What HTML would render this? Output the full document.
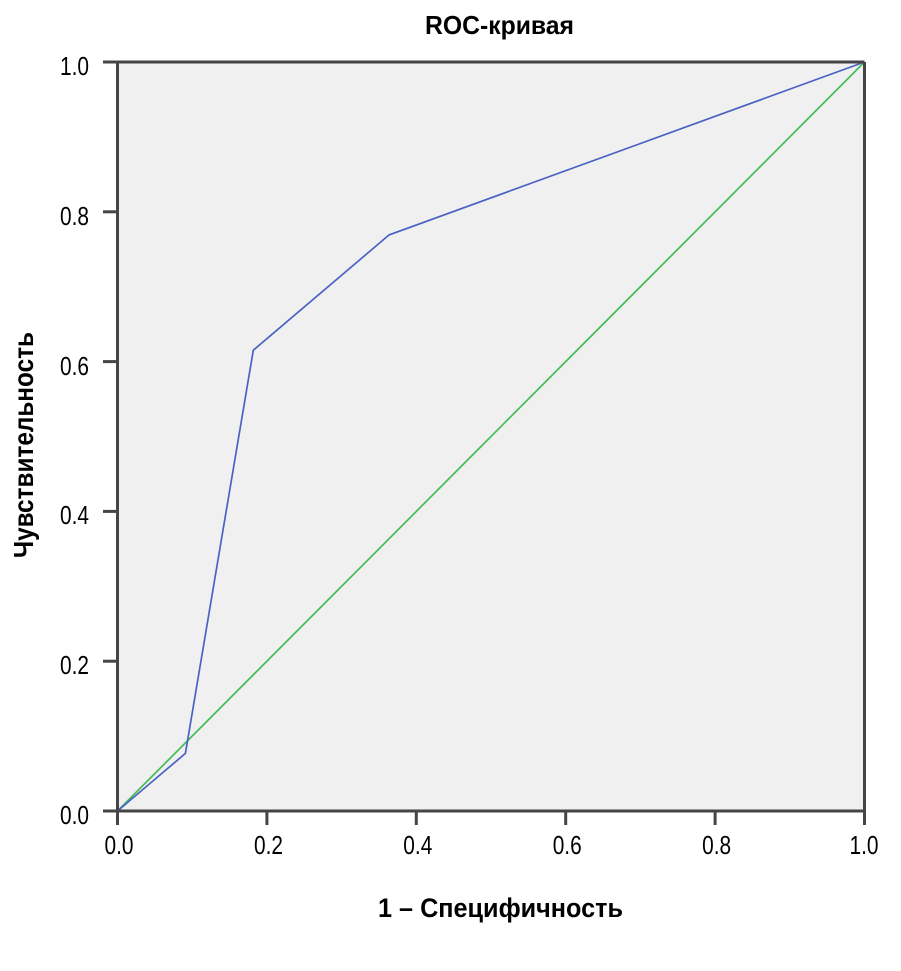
<!DOCTYPE html>
<html><head><meta charset="utf-8"><style>
html,body{margin:0;padding:0;background:#fff;}
svg{display:block;}
text{font-family:"Liberation Sans","DejaVu Sans",sans-serif;fill:#000;}
</style></head><body>
<svg width="901" height="971" viewBox="0 0 901 971" xmlns="http://www.w3.org/2000/svg">
<rect x="117.5" y="62" width="747" height="749" fill="#f0f0f0"/>
<!-- diagonal -->
<line x1="117.5" y1="811" x2="864.5" y2="62" stroke="#44bb55" stroke-width="1.7"/>
<!-- ROC -->
<polyline points="117.5,811 185.4,753.4 253.3,350.2 389.1,234.9 864.5,62" fill="none" stroke="#4a62c4" stroke-width="1.7"/>
<!-- frame -->
<g stroke="#454545" stroke-width="3" fill="none">
<line x1="117.5" y1="62" x2="864.5" y2="62"/>
<line x1="864.5" y1="62" x2="864.5" y2="811"/>
<line x1="117.5" y1="62" x2="117.5" y2="811"/>
<line x1="117.5" y1="811" x2="864.5" y2="811"/>
<!-- y ticks -->
<line x1="103" y1="62" x2="117.5" y2="62"/>
<line x1="103" y1="211.8" x2="117.5" y2="211.8"/>
<line x1="103" y1="361.6" x2="117.5" y2="361.6"/>
<line x1="103" y1="511.4" x2="117.5" y2="511.4"/>
<line x1="103" y1="661.2" x2="117.5" y2="661.2"/>
<line x1="103" y1="811" x2="117.5" y2="811"/>
<!-- x ticks -->
<line x1="117.5" y1="811" x2="117.5" y2="825"/>
<line x1="266.9" y1="811" x2="266.9" y2="825"/>
<line x1="416.3" y1="811" x2="416.3" y2="825"/>
<line x1="565.7" y1="811" x2="565.7" y2="825"/>
<line x1="715.1" y1="811" x2="715.1" y2="825"/>
<line x1="864.5" y1="811" x2="864.5" y2="825"/>
</g>
<!-- y tick labels -->
<g font-size="25.5" text-anchor="end">
<text x="89" y="75" textLength="29" lengthAdjust="spacingAndGlyphs">1.0</text>
<text x="89" y="225" textLength="29" lengthAdjust="spacingAndGlyphs">0.8</text>
<text x="89" y="375" textLength="29" lengthAdjust="spacingAndGlyphs">0.6</text>
<text x="89" y="524" textLength="29" lengthAdjust="spacingAndGlyphs">0.4</text>
<text x="89" y="674" textLength="29" lengthAdjust="spacingAndGlyphs">0.2</text>
<text x="89" y="824" textLength="29" lengthAdjust="spacingAndGlyphs">0.0</text>
</g>
<!-- x tick labels -->
<g font-size="25.5" text-anchor="middle">
<text x="119" y="854" textLength="29" lengthAdjust="spacingAndGlyphs">0.0</text>
<text x="268.5" y="854" textLength="29" lengthAdjust="spacingAndGlyphs">0.2</text>
<text x="417.8" y="854" textLength="29" lengthAdjust="spacingAndGlyphs">0.4</text>
<text x="567.2" y="854" textLength="29" lengthAdjust="spacingAndGlyphs">0.6</text>
<text x="716.6" y="854" textLength="29" lengthAdjust="spacingAndGlyphs">0.8</text>
<text x="864" y="854" textLength="29" lengthAdjust="spacingAndGlyphs">1.0</text>
</g>
<!-- title -->
<text x="499.5" y="34" font-size="26" font-weight="bold" text-anchor="middle" textLength="149" lengthAdjust="spacingAndGlyphs">ROC-кривая</text>
<!-- x label -->
<text x="500.5" y="917" font-size="27" font-weight="bold" text-anchor="middle" textLength="245" lengthAdjust="spacingAndGlyphs">1 – Специфичность</text>
<!-- y label -->
<text transform="translate(33,445) rotate(-90)" x="0" y="0" font-size="27.5" font-weight="bold" text-anchor="middle" textLength="226" lengthAdjust="spacingAndGlyphs">Чувствительность</text>
</svg>
</body></html>
